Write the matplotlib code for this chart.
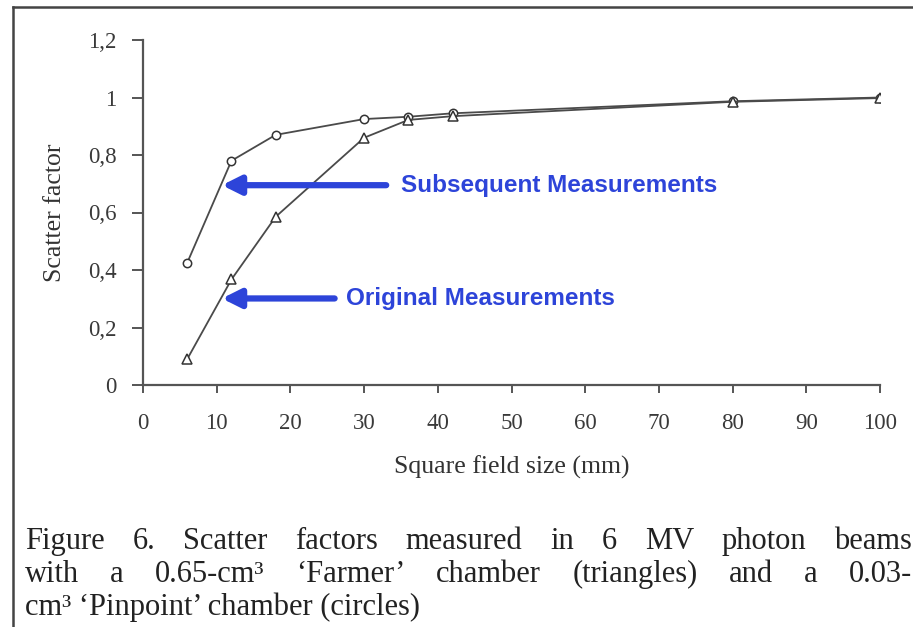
import matplotlib.pyplot as plt
from matplotlib.lines import Line2D

# field sizes (mm)
field_size = [6, 12, 18, 30, 36, 42, 80, 100]
# Pinpoint chamber (circles)
pinpoint = [0.425, 0.78, 0.87, 0.925, 0.933, 0.945, 0.987, 1.0]
# Farmer chamber (triangles)
farmer = [0.09, 0.367, 0.585, 0.86, 0.922, 0.935, 0.985, 0.998]

x_ticks = [0, 10, 20, 30, 40, 50, 60, 70, 80, 90, 100]
y_ticks = [0, 0.2, 0.4, 0.6, 0.8, 1.0, 1.2]
y_tick_labels = ['0', '0,2', '0,4', '0,6', '0,8', '1', '1,2']

caption = [
    'Figure 6. Scatter factors measured in 6 MV photon beams',
    'with a 0.65-cm\u00b3 \u2018Farmer\u2019 chamber (triangles) and a 0.03-',
    'cm\u00b3 \u2018Pinpoint\u2019 chamber (circles)',
]
caption_right = [912, 912, None]   # None = left aligned, not justified

serif = 'Liberation Serif'
blue = '#2d44d9'
line_col = '#4a4a4a'
W, H = 913, 627

fig = plt.figure(figsize=(W / 100, H / 100), dpi=100)
ax = fig.add_axes([143 / W, 1 - 385 / H, (880 - 143) / W, (385 - 40) / H])

ax.plot(field_size, pinpoint, color=line_col, lw=1.3, marker='o', ms=6,
        mfc='white', mec='#333333', mew=1.1, zorder=3)
ax.plot(field_size, farmer, color=line_col, lw=1.3, marker='^', ms=6.5,
        mfc='white', mec='#333333', mew=1.1, zorder=3)

ax.set_xlim(0, 100)
ax.set_ylim(0, 1.2)
ax.set_xticks(x_ticks)
ax.set_xticklabels([str(v) for v in x_ticks], fontfamily=serif, fontsize=16.5)
ax.set_yticks(y_ticks)
ax.set_yticklabels(y_tick_labels, fontfamily=serif, fontsize=16.5)
ax.tick_params(axis='x', direction='out', length=6, width=1.4, pad=14, colors='#555555', labelcolor='#3a3a3a')
ax.tick_params(axis='y', direction='out', length=8, width=1.4, pad=11, colors='#555555', labelcolor='#3a3a3a')
for s in ['top', 'right']:
    ax.spines[s].set_visible(False)
for s in ['left', 'bottom']:
    ax.spines[s].set_color('#555555')
    ax.spines[s].set_linewidth(1.6)

ax.set_xlabel('Square field size (mm)', fontfamily=serif, fontsize=18.5, color='#333333', labelpad=16)
ax.set_ylabel('Scatter factor', fontfamily=serif, fontsize=18.5, color='#333333', labelpad=16)

# annotation arrows
arrow_style = dict(arrowstyle='-|>,head_length=1.1,head_width=0.55', color=blue, lw=4.5,
                   shrinkA=0, shrinkB=0)
ax.annotate('', xy=(10.7, 0.695), xytext=(33.0, 0.695), arrowprops=arrow_style)
ax.annotate('', xy=(10.7, 0.301), xytext=(26.0, 0.301), arrowprops=arrow_style)
ax.text(35.0, 0.695, 'Subsequent Measurements', color=blue, fontsize=17.5,
        fontweight='bold', fontfamily='Liberation Sans', va='center', ha='left')
ax.text(27.5, 0.301, 'Original Measurements', color=blue, fontsize=17.5,
        fontweight='bold', fontfamily='Liberation Sans', va='center', ha='left')

# page frame (left and top edges)
fig.add_artist(Line2D([13 / W, 13 / W], [0, 1 - 7 / H], transform=fig.transFigure,
                      color='#444444', lw=1.8))
fig.add_artist(Line2D([13 / W, 1], [1 - 7 / H, 1 - 7 / H], transform=fig.transFigure,
                      color='#444444', lw=1.8))

# caption, lines 1 and 2 justified word by word
renderer = fig.canvas.get_renderer()
for i, line in enumerate(caption):
    y = 1 - (549 + i * 33) / H
    if caption_right[i] is None:
        fig.text(25 / W, y, line, fontfamily=serif, fontsize=22,
                 color='#222222', va='baseline', ha='left')
        continue
    words = [fig.text(0, y, w, fontfamily=serif, fontsize=22, color='#222222',
                      va='baseline', ha='left') for w in line.split(' ')]
    widths = [t.get_window_extent(renderer).width for t in words]
    x0 = 25
    gap = (caption_right[i] - x0 - sum(widths)) / (len(words) - 1)
    x = x0
    for t, w in zip(words, widths):
        t.set_x(x / W)
        x += w + gap

fig.savefig('out.png', dpi=100)
